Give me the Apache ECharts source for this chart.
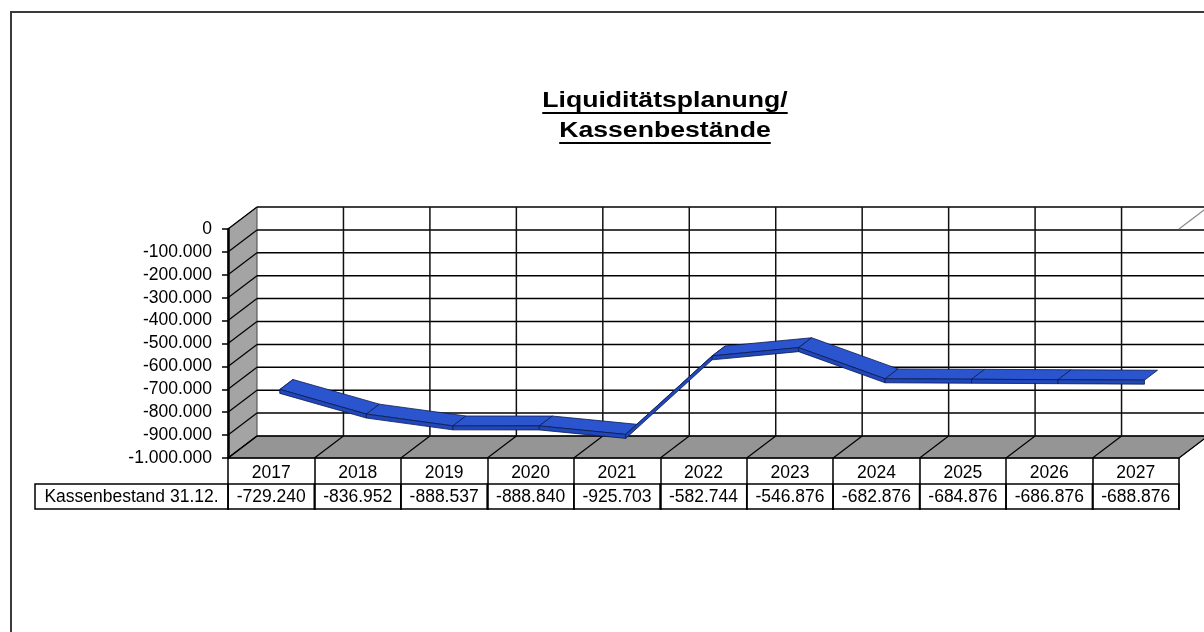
<!DOCTYPE html>
<html><head><meta charset="utf-8">
<script src="https://cdn.jsdelivr.net/npm/echarts@6/dist/echarts.min.js"></script>
<style>html,body{margin:0;padding:0;background:#fff}#c{width:1204px;height:632px}</style>
</head><body><div id="c"></div>
<script>
// ---- data ----
const years = ['2017','2018','2019','2020','2021','2022','2023','2024','2025','2026','2027'];
const balances = [-729240, -836952, -888537, -888840, -925703, -582744, -546876, -682876, -684876, -686876, -688876];
const yMin = -1000000, yMax = 0, yStep = 100000;
const rowLabel = 'Kassenbestand 31.12.';
const titleLines = ['Liquiditätsplanung/', 'Kassenbestände'];

// ---- style constants ----
const DX = 29, DY = -22;          // 3D depth offset
const FAM = 'Liberation Sans, Arial, sans-serif';
const FS = 17.5;
const ROW1 = 26, ROW2 = 25;

function fmt(v) {
  const s = Math.abs(Math.round(v)).toString().replace(/\B(?=(\d{3})+(?!\d))/g, '.');
  return (v < 0 ? '-' : '') + s;
}

function renderBox(params, api) {
  const cs = params.coordSys;
  const xL = cs.x, xR = cs.x + cs.width;
  const y0 = api.coord([0, yMax])[1], yB = api.coord([0, yMin])[1];
  const band = api.size([1, 0])[0];
  const ch = [];
  const diag = {stroke:'#000', lineWidth:1.2};
  ch.push({type:'rect', shape:{x:xL+DX, y:y0+DY, width:cs.width+40, height:yB-y0}, style:{fill:'#fff'}});
  ch.push({type:'polygon', shape:{points:[[xL,y0],[xL+DX,y0+DY],[xL+DX,yB+DY],[xL,yB]]}, style:{fill:'#a4a4a4', stroke:'#444', lineWidth:1}});
  ch.push({type:'polygon', shape:{points:[[xL,yB],[xL+DX,yB+DY],[xR+DX,yB+DY],[xR,yB]]}, style:{fill:'#959595', stroke:'#444', lineWidth:1}});
  for (let v = yMax; v >= yMin; v -= yStep) {
    const y = api.coord([0, v])[1];
    ch.push({type:'line', shape:{x1:xL+DX, y1:y+DY, x2:xR+DX+40, y2:y+DY}, style:{stroke:'#000', lineWidth:1.5}});
    ch.push({type:'line', shape:{x1:xL, y1:y, x2:xL+DX, y2:y+DY}, style:diag});
  }
  for (let i = 0; i <= years.length; i++) {
    const x = xL + i * band;
    if (i > 0) ch.push({type:'line', shape:{x1:x+DX, y1:y0+DY, x2:x+DX, y2:yB+DY}, style:{stroke:'#111', lineWidth:1.5}});
    ch.push({type:'line', shape:{x1:x, y1:yB, x2:x+DX, y2:yB+DY}, style:diag});
  }
  ch.push({type:'line', shape:{x1:xR, y1:y0, x2:xR+DX, y2:y0+DY}, style:{stroke:'#888', lineWidth:1.2}});
  return {type:'group', children:ch};
}

const F = 0.3, B = 0.75, T = 4;
const TOP = '#2b54cf', FRONT = '#2148bb', EDGE = '#0b1b4f';
function renderRibbon(params, api) {
  const i = api.value(0);
  const n = balances.length;
  const a = api.coord([i, api.value(1)]);
  const af = [a[0] + F*DX, a[1] + F*DY], ab = [a[0] + B*DX, a[1] + B*DY];
  const ch = [];
  if (i === 0) {
    ch.push({type:'polygon', shape:{points:[af, ab, [ab[0], ab[1]+T], [af[0], af[1]+T]]}, style:{fill:FRONT, stroke:EDGE, lineWidth:0.8}});
  }
  if (i < n - 1) {
    const b = api.coord([i + 1, api.value(2)]);
    const bf = [b[0] + F*DX, b[1] + F*DY], bb = [b[0] + B*DX, b[1] + B*DY];
    ch.push({type:'polygon', shape:{points:[af, bf, bb, ab]}, style:{fill:TOP, stroke:EDGE, lineWidth:0.8}});
    ch.push({type:'polygon', shape:{points:[af, bf, [bf[0], bf[1]+T], [af[0], af[1]+T]]}, style:{fill:FRONT, stroke:EDGE, lineWidth:0.8}});
  }
  return {type:'group', children:ch};
}

function renderRow(params, api) {
  const i = api.value(0);
  const c = api.coord([i, yMin]);
  const band = api.size([1, 0])[0];
  const top = c[1] + ROW1;
  return {type:'group', children:[
    {type:'rect', shape:{x:c[0]-band/2, y:top, width:band, height:ROW2}, style:{fill:'#fff', stroke:'#000', lineWidth:1.5}},
    {type:'text', style:{x:c[0], y:top+ROW2/2+1, text:fmt(api.value(1)), fontSize:FS, fontFamily:FAM, fill:'#000', align:'center', verticalAlign:'middle'}}
  ]};
}

const ctx = document.createElement('canvas').getContext('2d');
const TFONT = 'bold 22px "Liberation Sans"';
ctx.font = TFONT;
function titleLine(text, y) {
  const w = ctx.measureText(text).width;
  return {type:'group', x:665, y:y, scaleX:1.21, children:[
    {type:'text', style:{x:0, y:0, text:text, font:TFONT, fill:'#000', align:'center', verticalAlign:'middle'}},
    {type:'rect', shape:{x:-w/2, y:11, width:w, height:2}, style:{fill:'#000'}}
  ]};
}

const chart = echarts.init(document.getElementById('c'), null, {renderer:'canvas'});
chart.setOption({
  animation:false,
  backgroundColor:'#fff',
  grid:{left:228, right:25, top:229, bottom:174, containLabel:false},
  xAxis:{type:'category', data:years, boundaryGap:true, z:10,
    axisLine:{show:true, onZero:false, lineStyle:{color:'#000', width:1.5}},
    axisTick:{show:true, interval:0, alignWithLabel:false, length:ROW1+ROW2+1, lineStyle:{color:'#000', width:1.5}},
    axisLabel:{interval:0, fontSize:FS, fontFamily:FAM, color:'#000', margin:6},
    splitLine:{show:false}},
  yAxis:{type:'value', min:yMin, max:yMax, interval:yStep, z:10,
    axisLine:{show:true, lineStyle:{color:'#000', width:2.5}},
    axisTick:{show:true, length:6, lineStyle:{color:'#000', width:1.5}},
    axisLabel:{formatter:fmt, fontSize:FS, fontFamily:FAM, color:'#000', margin:16},
    splitLine:{show:false}},
  graphic:[
    {type:'rect', shape:{x:11, y:12, width:1300, height:700}, style:{fill:'none', stroke:'#3a3a3a', lineWidth:2}, z:0},
    {type:'rect', shape:{x:35, y:458+ROW1, width:193, height:ROW2}, style:{fill:'#fff', stroke:'#000', lineWidth:1.5}, z:5},
    {type:'text', x:131.5, y:458+ROW1+ROW2/2+1, style:{text:rowLabel, fontSize:FS, fontFamily:FAM, fill:'#000', align:'center', verticalAlign:'middle'}, z:6},
    titleLine(titleLines[0], 101),
    titleLine(titleLines[1], 131)
  ],
  series:[
    {type:'custom', name:'box', silent:true, clip:false, z:1, data:[[0, 0]], renderItem:renderBox},
    {type:'custom', name:'Kassenbestand 31.12.', clip:false, z:3,
      data:balances.map((v, i) => [i, v, i < balances.length - 1 ? balances[i + 1] : v]),
      encode:{x:0, y:1}, renderItem:renderRibbon},
    {type:'custom', name:'table', silent:true, clip:false, z:4,
      data:balances.map((v, i) => [i, v]), encode:{x:0, y:1}, renderItem:renderRow}
  ]
});
</script></body></html>
